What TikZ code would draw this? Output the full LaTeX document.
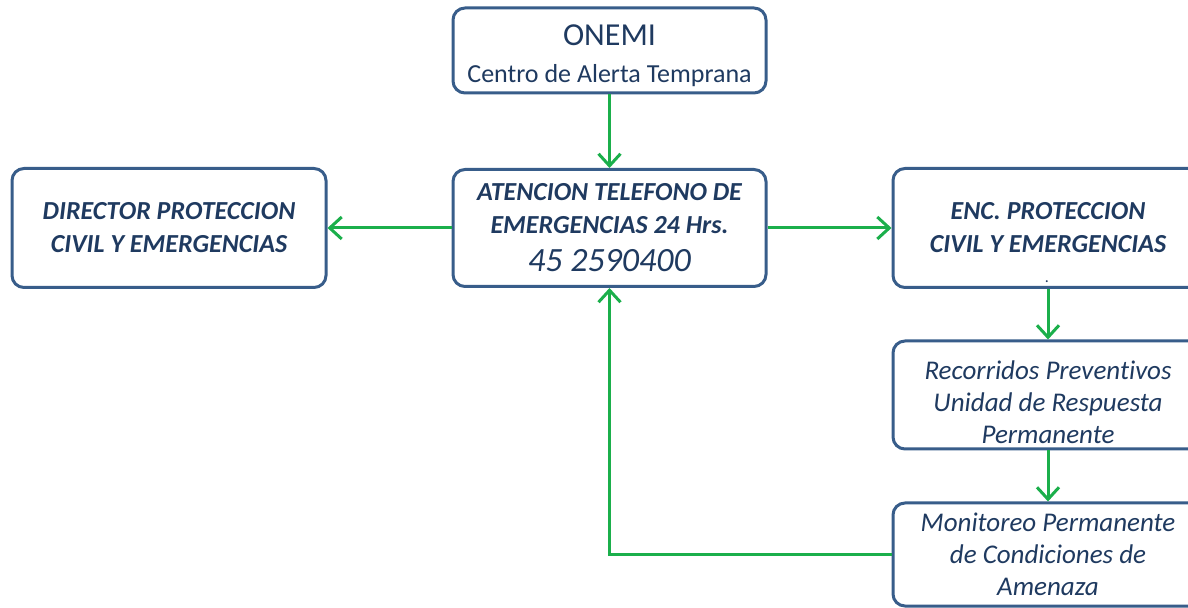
\documentclass[tikz,border=0pt]{standalone}
\usepackage{fontspec}
\setmainfont{Carlito}[Ligatures=NoCommon]
\usepackage[]{tikz}
\usetikzlibrary{arrows.meta}
\usetikzlibrary{positioning}
\definecolor{borde}{HTML}{385D8A}
\definecolor{texto}{HTML}{1F3A60}
\definecolor{verde}{HTML}{1BAF4B}
\tikzset{caja/.style = {draw=borde, line width=1.5pt, rounded corners=6pt, fill=white, align=center, text=texto, inner sep=2pt}}
\tikzset{flecha/.style = {draw=verde, line width=1.5pt, -{Straight Barb[length=6pt,width=11pt]}}}
\tikzset{negrita/.style = {font=\fontsize{13}{16.5}\selectfont\bfseries\itshape}}
\tikzset{cursiva/.style = {font=\fontsize{13.5}{16}\selectfont\itshape}}

\begin{document}
\begin{tikzpicture}[x=0.5pt,y=-0.5pt]
        \clip (0,0) rectangle (1188,608);
        \node [caja, font=\fontsize{13}{18.5}\selectfont, minimum width=156.5pt, minimum height=42.5pt] (onemi) at (609.5,50.5) {\rule{0pt}{15.5pt}{\fontsize{16}{18.5}\selectfont ONEMI}\\Centro de Alerta Temprana};
        \node [caja, negrita, minimum width=156.5pt, minimum height=58.5pt] (atencion) at (609.5,228) {ATENCION TELEFONO DE\\EMERGENCIAS 24 Hrs.\\[2.5pt]{\fontsize{17}{16.5}\selectfont\mdseries 45 2590400}};
        \node [caja, negrita, minimum width=157pt, minimum height=59.5pt] (director) at (169,228) {DIRECTOR PROTECCION\\CIVIL Y EMERGENCIAS};
        \node [caja, negrita, minimum width=155pt, minimum height=59.5pt] (enc) at (1048,228) {ENC. PROTECCION\\CIVIL Y EMERGENCIAS};
        \node [text=texto, font=\fontsize{8}{8}\selectfont, inner sep=0pt] (punto) at (1047,282) {.};
        \node [caja, cursiva, minimum width=155pt, minimum height=54pt] (recorridos) at (1048,395) {\rule{0pt}{17pt}Recorridos Preventivos\\Unidad de Respuesta\\Permanente};
        \node [caja, cursiva, minimum width=155pt, minimum height=51.5pt] (monitoreo) at (1048,554.5) {Monitoreo Permanente\\de Condiciones de\\Amenaza};
        \draw [flecha] (onemi) -- (atencion);
        \draw [flecha] (atencion) -- (director);
        \draw [flecha] (atencion) -- (enc);
        \draw [flecha] (enc) -- (recorridos);
        \draw [flecha] (recorridos) -- (monitoreo);
        \draw [flecha] (monitoreo.west) -| (atencion.south);
    \end{tikzpicture}
\end{document}
